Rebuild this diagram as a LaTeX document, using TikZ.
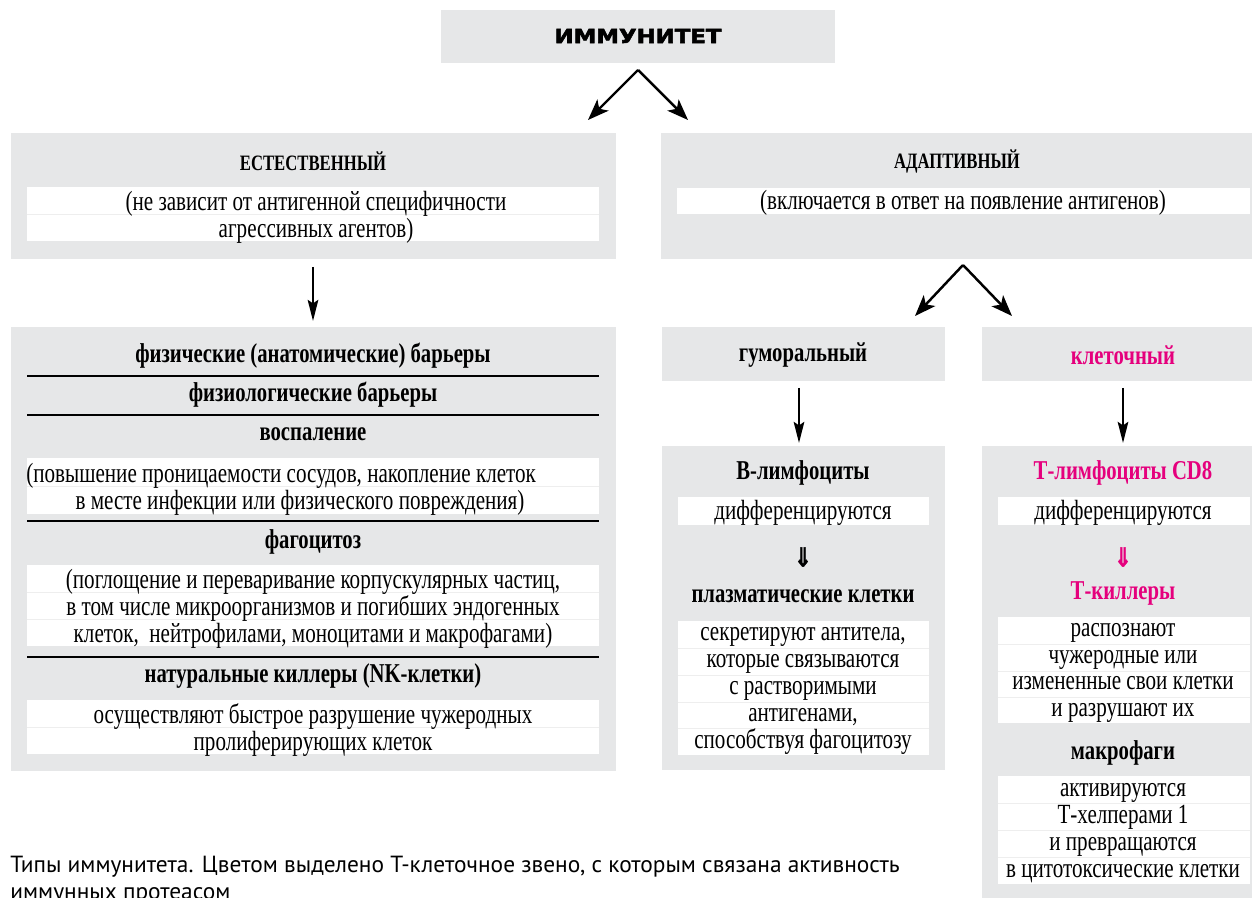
\documentclass[tikz,border=0pt]{standalone}
\usepackage{fontspec}
\setmainfont{Liberation Serif}[FakeStretch=0.76]
\newfontfamily\titlefont{DejaVu Sans}[FakeStretch=1.18,FakeBold=3]
\newfontfamily\symfont{DejaVu Sans}[FakeStretch=0.8,FakeBold=1.5]
\newfontfamily\capfont{PT Sans}
\usetikzlibrary{arrows.meta,fit}
\definecolor{boxgray}{HTML}{E6E7E8}
\definecolor{sepgray}{HTML}{EEEEEE}
\definecolor{mag}{HTML}{E5007D}
\tikzset{
  gbox/.style={fill=boxgray,draw=none,inner sep=0pt},
  body/.style={font=\fontsize{15.8}{15.3}\selectfont,align=center,inner sep=0pt},
  head/.style={font=\fontsize{15.5}{15.3}\selectfont\bfseries,inner sep=0pt},
  capsh/.style={font=\fontsize{12.5}{15.3}\selectfont\bfseries,inner sep=0pt},
  ttl/.style={font=\titlefont\bfseries\fontsize{11}{13}\selectfont,inner sep=0pt},
  dsym/.style={font=\symfont\bfseries\fontsize{15}{15}\selectfont,inner sep=0pt},
  captxt/.style={font=\capfont\fontsize{13.3}{15}\selectfont,inner sep=0pt,anchor=west},
  rule/.style={line width=0.6pt,black},
  sep/.style={line width=0.5pt,sepgray},
  darr/.style={-{Stealth[length=12pt,width=9pt,inset=3pt]},line width=1.4pt},
  varr/.style={-{Stealth[length=12pt,width=6pt,inset=2pt]},line width=1.4pt},
}
\begin{document}
\begin{tikzpicture}[x=0.02cm,y=-0.02cm]
\useasboundingbox (0,0) rectangle (1254,898);
% ---------- boxes ----------
\node[gbox,fit={(441,10)(835,63)}] (imm) {};
\node[gbox,fit={(11,133)(616,259)}] (nat) {};
\node[gbox,fit={(661,133)(1252,259)}] (adp) {};
\node[gbox,fit={(11,327)(616,771)}] (natlist) {};
\node[gbox,fit={(662,327)(945,381)}] (hum) {};
\node[gbox,fit={(982,327)(1252,381)}] (cel) {};
\node[gbox,fit={(662,446)(945,770)}] (bbox) {};
\node[gbox,fit={(982,446)(1252,900)}] (tbox) {};
% ---------- white strips ----------
\fill[white] (27,187) rectangle (599,241);
\draw[sep] (27,214) -- (599,214);
\fill[white] (677,188) rectangle (1250,214);
\fill[white] (27,458) rectangle (599,514);
\draw[sep] (27,486) -- (599,486);
\fill[white] (27,565) rectangle (599,646);
\draw[sep] (27,592) -- (599,592);
\draw[sep] (27,619) -- (599,619);
\fill[white] (27,700) rectangle (599,754);
\draw[sep] (27,727) -- (599,727);
\fill[white] (678,497) rectangle (929,525);
\fill[white] (678,621) rectangle (929,755);
\foreach \yy in {648,675,702,728} \draw[sep] (678,\yy) -- (929,\yy);
\fill[white] (998,497) rectangle (1250,525);
\fill[white] (998,617) rectangle (1250,723);
\foreach \yy in {644,671,697} \draw[sep] (998,\yy) -- (1250,\yy);
\fill[white] (998,776) rectangle (1250,884);
\foreach \yy in {803,830,857} \draw[sep] (998,\yy) -- (1250,\yy);
% ---------- rules in left list ----------
\draw[rule] (27,376) -- (599,376);
\draw[rule] (27,415) -- (599,415);
\draw[rule] (27,521) -- (599,521);
\draw[rule] (27,657) -- (599,657);
% ---------- texts ----------
\node[ttl] (immt) at (638,36) {ИММУНИТЕТ};
\node[capsh] (natt) at (313,161) {ЕСТЕСТВЕННЫЙ};
\node[body] (natd) at (316,217) {(не зависит от антигенной специфичности\\агрессивных агентов)};
\node[capsh] (adpt) at (957,161) {АДАПТИВНЫЙ};
\node[body] (adpd) at (963,203) {(включается в ответ на появление антигенов)};
\node[head] (l1) at (313,356) {физические (анатомические) барьеры};
\node[head] (l2) at (313,395) {физиологические барьеры};
\node[head] (l3) at (313,434) {воспаление};
\node[body,align=left,anchor=west] (l3d) at (26,489) {(повышение проницаемости сосудов, накопление клеток\\\hspace*{28pt}в месте инфекции или физического повреждения)};
\node[head] (l4) at (313,542) {фагоцитоз};
\node[body] (l4d) at (313,609) {(поглощение и переваривание корпускулярных частиц,\\в том числе микроорганизмов и погибших эндогенных\\клеток,\ \ нейтрофилами, моноцитами и макрофагами)};
\node[head] (l5) at (313,676) {натуральные киллеры (NK-клетки)};
\node[body] (l5d) at (313,730) {осуществляют быстрое разрушение чужеродных\\пролиферирующих клеток};
\node[head] (humt) at (803,355) {гуморальный};
\node[head,text=mag] (celt) at (1123,355) {клеточный};
\node[head] (b1) at (803,473) {В-лимфоциты};
\node[body] (b2) at (803,513) {дифференцируются};
\node[dsym] (b3) at (803,557) {⇓};
\node[head] (b4) at (803,596) {плазматические клетки};
\node[body] (b5) at (803,691) {секретируют антитела,\\которые связываются\\с растворимыми\\антигенами,\\способствуя фагоцитозу};
\node[head,text=mag] (t1) at (1123,473) {Т-лимфоциты CD8};
\node[body] (t2) at (1123,513) {дифференцируются};
\node[dsym,text=mag] (t3) at (1123,557) {⇓};
\node[head,text=mag] (t4) at (1123,593) {Т-киллеры};
\node[body] (t5) at (1123,673) {распознают\\чужеродные или\\измененные свои клетки\\и разрушают их};
\node[head] (t6) at (1123,753) {макрофаги};
\node[body] (t7) at (1123,833) {активируются\\Т-хелперами 1\\и превращаются\\в цитотоксические клетки};
\node[captxt] (cap1) at (10,867) {Типы иммунитета. Цветом выделено Т-клеточное звено, с которым связана активность};
\node[captxt] (cap2) at (10,896) {иммунных протеасом};
% ---------- connectors ----------
\coordinate (apx1) at (638,70);
\coordinate (e1l) at (588,120);
\coordinate (e1r) at (688,120);
\draw[darr] (apx1) -- (e1l);
\draw[darr] (apx1) -- (e1r);
\coordinate (na1) at (313,267);
\coordinate (na2) at (313,321);
\draw[varr] (na1) -- (na2);
\coordinate (apx2) at (963,265);
\coordinate (e2l) at (915,316);
\coordinate (e2r) at (1012,316);
\draw[darr] (apx2) -- (e2l);
\draw[darr] (apx2) -- (e2r);
\coordinate (hb1) at (799,388);
\coordinate (hb2) at (799,443);
\draw[varr] (hb1) -- (hb2);
\coordinate (ct1) at (1123,388);
\coordinate (ct2) at (1123,443);
\draw[varr] (ct1) -- (ct2);
\end{tikzpicture}
\end{document}
